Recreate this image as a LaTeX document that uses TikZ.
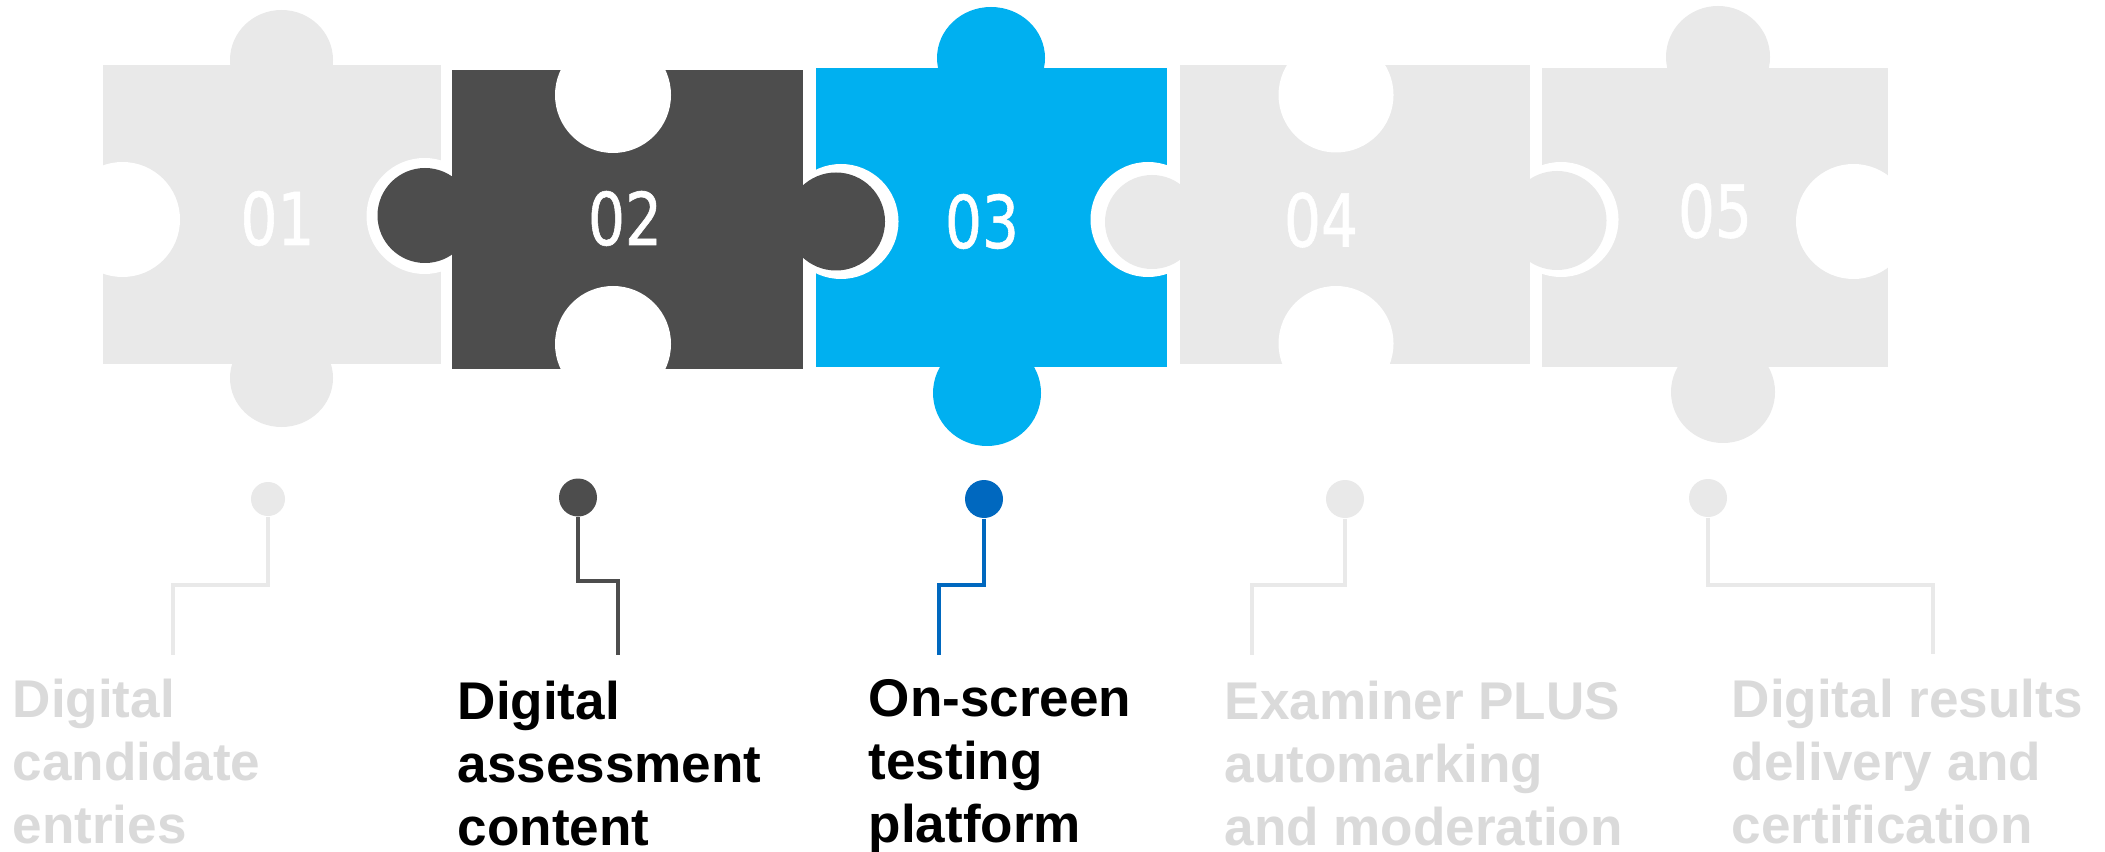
\documentclass[tikz,border=0pt]{standalone}
\usepackage{fontspec}
\setmainfont{Liberation Sans}
\newfontfamily\numfont[FakeStretch=0.8,FakeBold=0.8]{DejaVu Sans}
\definecolor{pale}{HTML}{E9E9E9}
\definecolor{paletext}{HTML}{DADADA}
\definecolor{slate}{HTML}{4D4D4D}
\definecolor{sky}{HTML}{00B0F0}
\definecolor{deepblue}{HTML}{0068BF}
\tikzset{num/.style={text=white,inner sep=0pt,font=\numfont\fontsize{20.7}{24}\selectfont},lab/.style={anchor=base west,inner sep=0pt,align=left,font=\bfseries\fontsize{15.1}{17.9}\selectfont},dot/.style={circle,inner sep=0pt,minimum size=3.8mm},lead/.style={line width=1pt}}

\begin{document}
\begin{tikzpicture}[x=1cm,y=1cm]
\useasboundingbox (0,0) rectangle (21.05,-8.52);
\fill[white] (0,0) rectangle (21.05,-8.52);

% piece bodies, holes cut inside each body
\fill[pale] (1.03,-0.65) rectangle (4.41,-3.64);
\begin{scope}\clip (1.03,-0.65) rectangle (4.41,-3.64);
\fill[white] (1.225,-2.195) circle[radius=.575] (4.245,-2.16) circle[radius=.58];
\end{scope}
\fill[slate] (4.52,-0.70) rectangle (8.03,-3.69);
\begin{scope}\clip (4.52,-0.70) rectangle (8.03,-3.69);
\fill[white] (6.13,-0.95) circle[radius=.58] (6.13,-3.44) circle[radius=.58];
\end{scope}
\fill[sky] (8.16,-0.68) rectangle (11.67,-3.67);
\begin{scope}\clip (8.16,-0.68) rectangle (11.67,-3.67);
\fill[white] (8.41,-2.215) circle[radius=.575] (11.48,-2.195) circle[radius=.575];
\end{scope}
\fill[pale] (11.80,-0.65) rectangle (15.30,-3.64);
\begin{scope}\clip (11.80,-0.65) rectangle (15.30,-3.64);
\fill[white] (13.36,-0.95) circle[radius=.575] (13.36,-3.435) circle[radius=.575];
\end{scope}
\fill[pale] (15.42,-0.68) rectangle (18.88,-3.67);
\begin{scope}\clip (15.42,-0.68) rectangle (18.88,-3.67);
\fill[white] (15.61,-2.195) circle[radius=.575] (18.535,-2.215) circle[radius=.575];
\end{scope}

% tabs
\fill[pale] (2.815,-0.60) ellipse[x radius=.515,y radius=.50] (2.815,-3.78) ellipse[x radius=.515,y radius=.49];
\fill[slate] (4.25,-2.155) circle[radius=.475] (8.36,-2.215) circle[radius=.49];
\fill[sky] (9.91,-0.58) ellipse[x radius=.54,y radius=.51] (9.87,-3.93) ellipse[x radius=.54,y radius=.53];
\fill[pale] (11.52,-2.22) circle[radius=.47] (15.57,-2.205) circle[radius=.495];
\fill[pale] (17.18,-0.57) ellipse[x radius=.52,y radius=.51] (17.23,-3.92) ellipse[x radius=.52,y radius=.51];

\node[num] (n1) at (2.775,-2.185) {01};
\node[num] (n2) at (6.25,-2.185) {02};
\node[num] (n3) at (9.82,-2.215) {03};
\node[num] (n4) at (13.21,-2.20) {04};
\node[num] (n5) at (17.15,-2.11) {05};

\node[dot,fill=pale,minimum size=3.4mm] (dot1) at (2.68,-4.99) {};
\node[dot,fill=slate] (dot2) at (5.78,-4.975) {};
\node[dot,fill=deepblue] (dot3) at (9.84,-4.99) {};
\node[dot,fill=pale] (dot4) at (13.45,-4.99) {};
\node[dot,fill=pale] (dot5) at (17.08,-4.98) {};
\coordinate (e1) at (1.73,-6.55);
\coordinate (e2) at (6.18,-6.55);
\coordinate (e3) at (9.39,-6.55);
\coordinate (e4) at (12.52,-6.55);
\coordinate (e5) at (19.33,-6.54);
\draw[lead,pale] (dot1.south) |- ([yshift=7mm]e1) -- (e1);
\draw[lead,slate] (dot2.south) |- ([yshift=7.4mm]e2) -- (e2);
\draw[lead,deepblue] (dot3.south) |- ([yshift=7mm]e3) -- (e3);
\draw[lead,pale] (dot4.south) |- ([yshift=7mm]e4) -- (e4);
\draw[lead,pale] (dot5.south) |- ([yshift=6.9mm]e5) -- (e5);

% base anchor sits on the last line
\node[lab,text=paletext] (lab1) at (0.12,-8.43) {Digital\\candidate\\entries};
\node[lab] (lab2) at (4.57,-8.45) {Digital\\assessment\\content};
\node[lab] (lab3) at (8.68,-8.42) {On-screen\\testing\\platform};
\node[lab,text=paletext] (lab4) at (12.24,-8.45) {Examiner PLUS\\automarking\\and moderation};
\node[lab,text=paletext] (lab5) at (17.31,-8.43) {Digital results\\delivery and\\certification};
\end{tikzpicture}
\end{document}
